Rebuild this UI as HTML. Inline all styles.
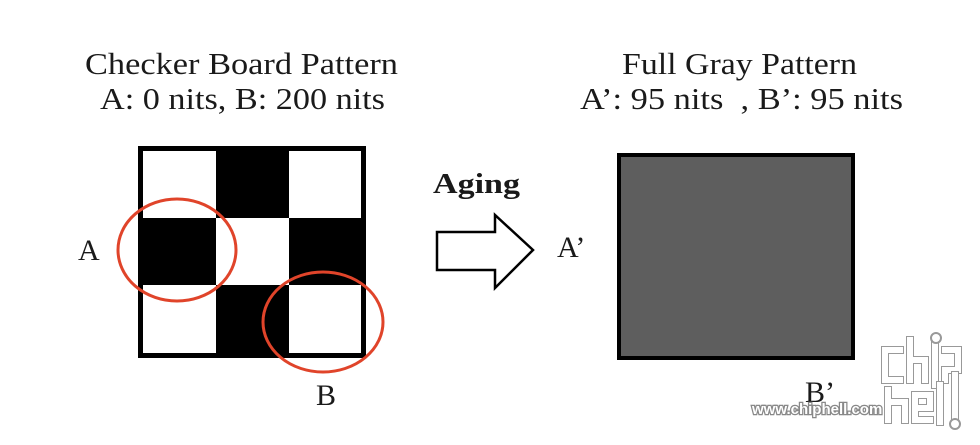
<!DOCTYPE html>
<html><head><meta charset="utf-8"><style>
html,body{margin:0;padding:0;background:#fff;}
svg{display:block;}
text{font-family:"Liberation Serif",serif;fill:#1a1a1a;}
</style></head><body>
<svg width="980" height="445" viewBox="0 0 980 445" xmlns="http://www.w3.org/2000/svg">
<rect width="980" height="445" fill="#fff"/>
<text x="85" y="74" font-size="31" textLength="313" lengthAdjust="spacingAndGlyphs">Checker Board Pattern</text>
<text x="100" y="109" font-size="31" textLength="285" lengthAdjust="spacingAndGlyphs">A: 0 nits, B: 200 nits</text>
<text x="622" y="74" font-size="31" textLength="235" lengthAdjust="spacingAndGlyphs">Full Gray Pattern</text>
<text x="580" y="109" font-size="31" textLength="323" lengthAdjust="spacingAndGlyphs">A’: 95 nits&#160;&#160;, B’: 95 nits</text>
<text x="433" y="193" font-size="28" font-weight="bold" textLength="87" lengthAdjust="spacingAndGlyphs">Aging</text>
<rect x="140.5" y="148.5" width="223" height="207" fill="#fff" stroke="#000" stroke-width="5"/>
<rect x="216" y="151" width="73" height="67" fill="#000"/>
<rect x="143" y="218" width="73" height="67" fill="#000"/>
<rect x="289" y="218" width="73" height="67" fill="#000"/>
<rect x="216" y="285" width="73" height="68" fill="#000"/>
<ellipse cx="177" cy="250" rx="59" ry="51" fill="none" stroke="#e0442a" stroke-width="3"/>
<ellipse cx="323" cy="322" rx="60" ry="50" fill="none" stroke="#e0442a" stroke-width="3"/>
<text x="78" y="260" font-size="30">A</text>
<text x="316" y="405" font-size="30">B</text>
<polygon points="437,232 495,232 495,215 533,250 495,288 495,270 437,270" fill="#fff" stroke="#000" stroke-width="2.5"/>
<text x="557" y="257" font-size="30">A’</text>
<rect x="619" y="155" width="234" height="203" fill="#5e5e5e" stroke="#000" stroke-width="4"/>
<text x="805" y="402" font-size="30">B’</text>
<text x="752" y="414" font-size="15" font-weight="bold" style="font-family:'Liberation Sans',sans-serif;fill:#fff;stroke:#888;stroke-width:2.5;paint-order:stroke;">www.chiphell.com</text>
<g fill="none" stroke="#fff" stroke-width="6" stroke-linecap="square">
<path d="M900,350 H885 V380 H900" stroke="#999" stroke-width="8"/>
<path d="M900,350 H885 V380 H900"/>
<path d="M910,340 V380 M910,360 H925 V380" stroke="#999" stroke-width="8"/>
<path d="M910,340 V380 M910,360 H925 V380"/>
<path d="M935,345 V385" stroke="#999" stroke-width="8"/>
<path d="M935,345 V385"/>
<path d="M945,350 H958 V370 H945 V380" stroke="#999" stroke-width="8"/>
<path d="M945,350 H958 V370 H945 V380"/>
<path d="M888,390 V420 M888,402 H905 V420" stroke="#999" stroke-width="8"/>
<path d="M888,390 V420 M888,402 H905 V420"/>
<path d="M930,420 H915 V395 H930 V408 H915" stroke="#999" stroke-width="8"/>
<path d="M930,420 H915 V395 H930 V408 H915"/>
<path d="M940,385 V422 M955,375 V420" stroke="#999" stroke-width="8"/>
<path d="M940,385 V422 M955,375 V420"/>
</g>
<circle cx="936" cy="338" r="5" fill="#fff" stroke="#999" stroke-width="2"/>
<circle cx="955" cy="424" r="5" fill="#fff" stroke="#999" stroke-width="2"/>
</svg>
</body></html>
